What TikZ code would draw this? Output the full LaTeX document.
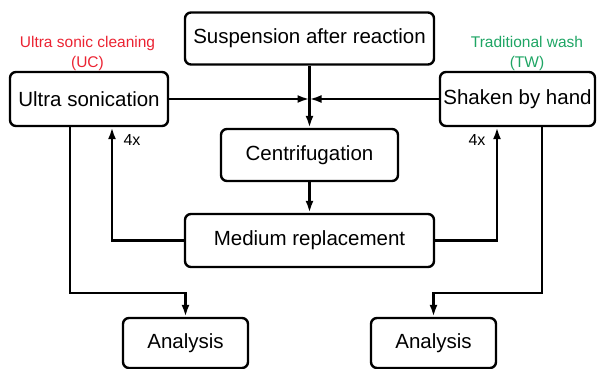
\documentclass[tikz,border=0pt]{standalone}
\usepackage{fontspec}
\setmainfont{Liberation Sans}
\usetikzlibrary{arrows.meta}
\definecolor{ucred}{RGB}{235,35,50}
\definecolor{twgreen}{RGB}{30,165,100}
\tikzset{stepbox/.style={draw,line width=2.4pt,rounded corners=6pt,minimum height=52pt,inner sep=2pt,font=\fontsize{20.5}{24}\selectfont},
flow/.style={line width=2.4pt,-{Latex[length=12pt,width=8pt]}},
repeat label/.style={font=\fontsize{16}{18}\selectfont},
method label/.style={font=\fontsize{15.5}{20}\selectfont,align=center}}
\begin{document}
\begin{tikzpicture}[x=1pt,y=1pt]
\useasboundingbox (0,0) rectangle (597,369);

%% boxes
\node [stepbox,minimum width=249pt] (susp) at (309.5,330.5) {Suspension after reaction};
\node [stepbox,minimum width=158pt,minimum height=54pt] (ultra) at (89,270) {Ultra sonication};
\node [stepbox,minimum width=155pt,minimum height=54pt] (shaken) at (517.5,270) {Shaken by hand};
\node [stepbox,minimum width=177pt] (centr) at (309.5,214) {Centrifugation};
\node [stepbox,minimum width=249pt,minimum height=53pt] (medium) at (309.5,128.5) {Medium replacement};
\node [stepbox,minimum width=125pt,minimum height=50pt] (anaL) at (185.5,26) {Analysis};
\node [stepbox,minimum width=125pt,minimum height=50pt] (anaR) at (433.5,26) {Analysis};

%% method labels
\node [method label,text=ucred] (ucl) at (87.5,316) {Ultra sonic cleaning\\(UC)};
\node [method label,text=twgreen] (twl) at (527,316) {Traditional wash\\(TW)};

%% Coordinates of bends.
\coordinate (j) at (309.5,270);
\coordinate (lL) at (112,128.5);
\coordinate (lR) at (497,128.5);
\coordinate (aL) at (70,76);
\coordinate (aR) at (542,76);

%% main line
\draw [flow] (susp.south) -- (centr.north);
\draw [flow] (ultra.east) -- (j);
\draw [flow] (shaken.west) -- (j);
\draw [flow] (centr.south) -- (medium.north);

%% washing loops
\draw [flow] (medium.west) -- (lL) -- (lL |- ultra.south);
\draw [flow] (medium.east) -- (lR) -- (lR |- shaken.south);
\node [repeat label,anchor=west] (repL) at (120,229) {4x};
\node [repeat label,anchor=east] (repR) at (489,229) {4x};

%% to analysis
\draw [flow] (aL |- ultra.south) -- (aL) -| (anaL.north);
\draw [flow] (aR |- shaken.south) -- (aR) -| (anaR.north);

\end{tikzpicture}
\end{document}
